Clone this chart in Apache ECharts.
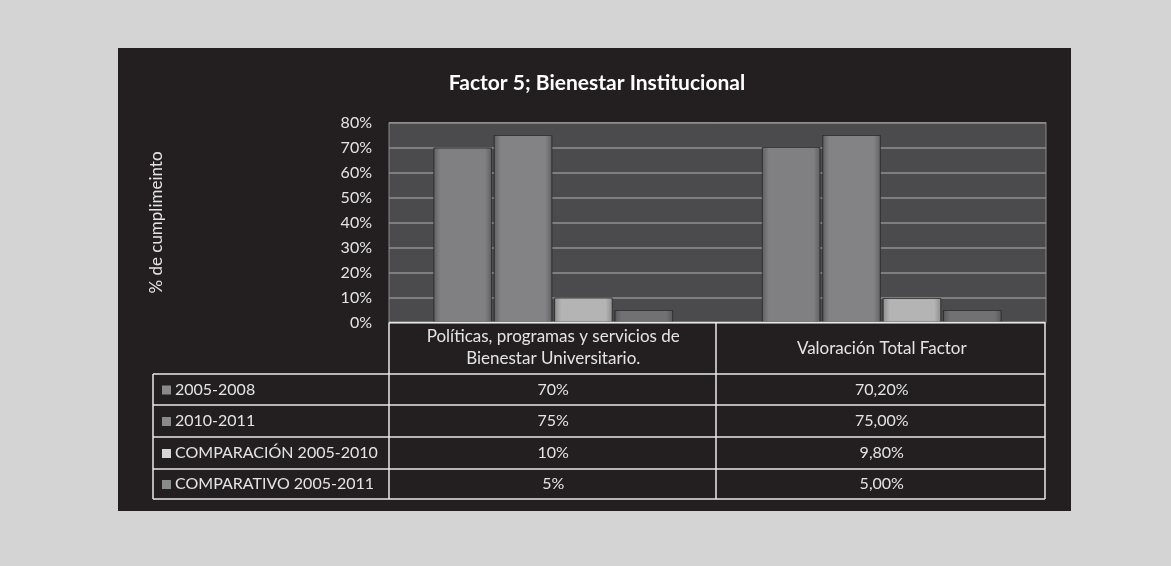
<!DOCTYPE html>
<html><head><meta charset="utf-8">
<script src="https://cdn.jsdelivr.net/npm/echarts@6/dist/echarts.min.js"></script>
<style>html,body{margin:0;padding:0;background:#d4d4d5}#c{width:1171px;height:566px}</style>
</head><body><div id="c"></div>
<script>
// ---- data ----
const categories = ['Políticas, programas y servicios de\nBienestar Universitario.', 'Valoración Total Factor'];
const seriesNames = ['2005-2008', '2010-2011', 'COMPARACIÓN 2005-2010', 'COMPARATIVO 2005-2011'];
const s20052008 = [70, 70.2];
const s20102011 = [75, 75.0];
const comp20052010 = [10, 9.8];
const comp20052011 = [5, 5.0];
const decimalsPerCategory = [0, 2];
const yTickMax = 80;
const yTickStep = 10;

const seriesValues = [s20052008, s20102011, comp20052010, comp20052011];

// ---- styles ----
const fontFam = 'Lato, "Open Sans", sans-serif';
const txt = '#e4e4e4';
const barFills = [
  ['#5f5f61', '#808082', '#5f5f61'],
  ['#5f5f61', '#838385', '#5f5f61'],
  ['#8c8c8c', '#b4b4b4', '#8c8c8c'],
  ['#58585a', '#717173', '#58585a']
];
const keyColors = ['#8a8a8a', '#8a8a8a', '#d6d6d6', '#8a8a8a'];

function grad(c) {
  return new echarts.graphic.LinearGradient(0, 0, 1, 0, [
    {offset: 0, color: c[0]}, {offset: 0.12, color: c[1]}, {offset: 0.88, color: c[1]}, {offset: 1, color: c[2]}
  ]);
}
function fmt(v, d) { return v.toFixed(d).replace('.', ',') + '%'; }

const chart = echarts.init(document.getElementById('c'));
const gridL = 389, gridR = 1046, gridT = 122.5, gridB = 322.5;

const option = {
  backgroundColor: '#d4d4d5',
  animation: false,
  title: {
    text: 'Factor 5; Bienestar Institucional',
    left: 592, top: 68, textAlign: 'center',
    textStyle: {color: '#ffffff', fontSize: 21, fontWeight: 'bold', fontFamily: fontFam}
  },
  grid: {
    left: gridL, right: 1171 - gridR, top: gridT, bottom: 566 - gridB,
    show: true, backgroundColor: '#4b4b4d', borderColor: '#8a8a8a', borderWidth: 1
  },
  xAxis: {
    type: 'category', data: categories,
    axisLine: {show: false}, axisTick: {show: false}, axisLabel: {show: false}
  },
  yAxis: {
    type: 'value', min: 0, max: yTickMax, interval: yTickStep,
    name: '% de cumplimeinto', nameLocation: 'middle', nameGap: 224, nameRotate: 90,
    nameTextStyle: {color: txt, fontSize: 17, fontFamily: fontFam},
    axisLine: {show: false}, axisTick: {show: false},
    axisLabel: {formatter: '{value}%', color: txt, fontSize: 16, fontFamily: fontFam, margin: 17},
    splitLine: {lineStyle: {color: '#8f8f8f', width: 1.5}}
  },
  series: seriesNames.map((n, i) => ({
    name: n, type: 'bar', data: seriesValues[i],
    barGap: '3%', barCategoryGap: '27%',
    itemStyle: {color: grad(barFills[i]), borderColor: 'rgba(40,40,40,0.5)', borderWidth: 1},
    z: 3
  }))
};
chart.setOption(option);

// ---- data table under the plot ----
const colX = [153, gridL, 716, 1045];
const rowY = [gridB, 374, 405, 437, 469, 499];
const lineStyle = {stroke: '#e8e8e8', lineWidth: 1.5};
const g = [];
g.push({type: 'rect', shape: {x: 118, y: 48, width: 953, height: 463}, style: {fill: '#231f20'}, z: -10, silent: true});
function L(x1, y1, x2, y2) { g.push({type: 'line', shape: {x1, y1, x2, y2}, style: lineStyle, z: 10}); }
L(gridL, rowY[0], colX[3], rowY[0]);
for (let r = 1; r < rowY.length; r++) L(colX[0], rowY[r], colX[3], rowY[r]);
L(colX[0], rowY[1], colX[0], rowY[5]);
L(colX[1], rowY[0], colX[1], rowY[5]);
L(colX[2], rowY[0], colX[2], rowY[5]);
L(colX[3], rowY[0], colX[3], rowY[5]);

categories.forEach((c, ci) => {
  const cx = chart.convertToPixel({xAxisIndex: 0}, ci);
  const multi = c.indexOf('\n') >= 0;
  g.push({type: 'text', x: cx, y: multi ? 348 : 349, z: 11,
    style: {text: c, fill: txt, font: '17px ' + fontFam, align: 'center', verticalAlign: 'middle', lineHeight: 22}});
  seriesNames.forEach((n, si) => {
    const y = (rowY[si + 1] + rowY[si + 2]) / 2;
    g.push({type: 'text', x: cx, y: y, z: 11,
      style: {text: fmt(seriesValues[si][ci], decimalsPerCategory[ci]), fill: txt, font: '16px ' + fontFam, align: 'center', verticalAlign: 'middle'}});
  });
});
seriesNames.forEach((n, si) => {
  const y = (rowY[si + 1] + rowY[si + 2]) / 2;
  g.push({type: 'rect', shape: {x: 162, y: y - 4, width: 9, height: 9}, style: {fill: keyColors[si]}, z: 11});
  g.push({type: 'text', x: 175, y: y, z: 11,
    style: {text: n, fill: txt, font: '16px ' + fontFam, align: 'left', verticalAlign: 'middle'}});
});
chart.setOption({graphic: g});
</script>
</body></html>
